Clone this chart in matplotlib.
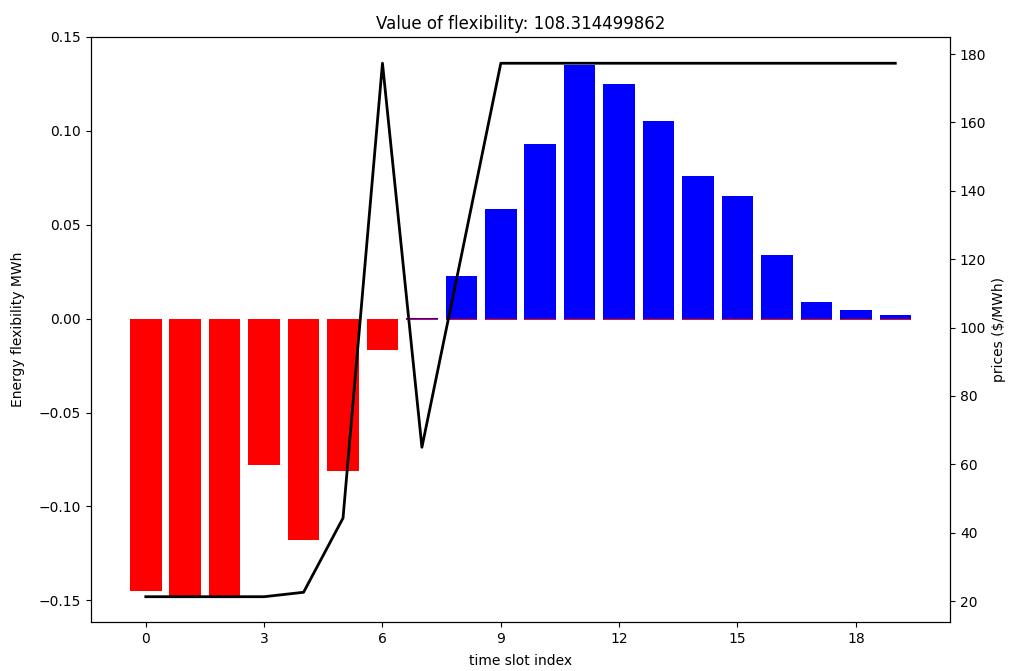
"""Energy flexibility per time slot with price overlay"""

import matplotlib
matplotlib.use('Agg')
import matplotlib.pyplot as plt
from matplotlib.ticker import MaxNLocator

slots = list(range(20))
flex_up = [0, 0, 0, 0, 0, 0, 0, 0.0006, 0.0229, 0.0585, 0.093, 0.135, 0.125,
           0.105, 0.076, 0.0654, 0.034, 0.009, 0.0048, 0.0021]
flex_down = [-0.1452, -0.148, -0.148, -0.0777, -0.118, -0.081, -0.0165, -0.0009,
             -0.0007, -0.0007, -0.0007, -0.0007, -0.0007, -0.0007, -0.0007,
             -0.0007, -0.0007, -0.0007, -0.0007, -0.0007]
prices = [21.3, 21.3, 21.3, 21.3, 22.6, 44.3, 177.3, 65.0, 121.0, 177.3, 177.3,
          177.3, 177.3, 177.3, 177.3, 177.3, 177.3, 177.3, 177.3, 177.3]
flex_value = 108.314499862

fig = plt.figure(figsize=(10.14, 6.71), dpi=100)
ax = fig.add_axes([0.0897, 0.073, 0.8473, 0.872])

ax.bar(slots, flex_up, color='blue')
ax.bar(slots, flex_down, color='red')
ax.set_ylim(-0.1615, 0.15)
ax.set_yticks([-0.15, -0.10, -0.05, 0.00, 0.05, 0.10, 0.15])
ax.xaxis.set_major_locator(MaxNLocator(integer=True))
ax.set_xlabel('time slot index', labelpad=6)
ax.set_ylabel('Energy flexibility MWh', labelpad=10)
ax.set_title(f'Value of flexibility: {flex_value}')

ax2 = ax.twinx()
ax2.plot(slots, prices, color='black', linewidth=2)
ax2.set_ylim(13.9, 185)
ax2.set_ylabel('prices ($/MWh)')

fig.savefig('out.png', dpi=100)
